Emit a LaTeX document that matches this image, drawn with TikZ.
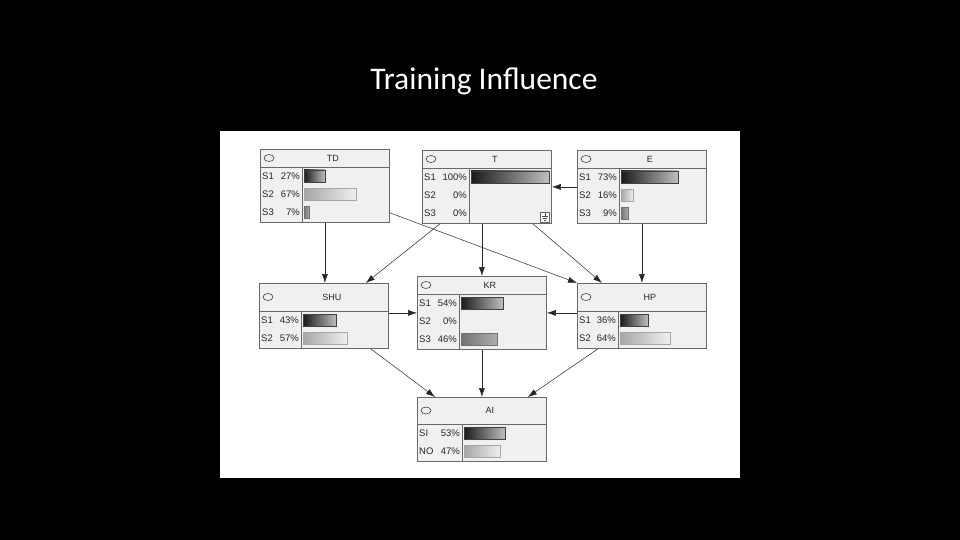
\documentclass[tikz,border=0pt]{standalone}
\usepackage{fontspec}
\setmainfont{Liberation Sans}
\newfontfamily\titlefont{Carlito}
\usepackage{tikz}
\usetikzlibrary{
  arrows.meta,
  positioning,
  calc,
  shapes.geometric
}
\definecolor{boxgray}{RGB}{240,240,240}
\definecolor{linegray}{RGB}{105,105,105}
\tikzset{
  netbox/.style={
    draw=linegray,
    fill=boxgray,
    minimum width=129pt,
    inner sep=0pt,
    line width=0.8pt
  },
  netline/.style={draw=linegray,line width=0.8pt},
  nodeicon/.style={ellipse,draw=black!75,minimum width=10pt,minimum height=7pt,inner sep=0pt,line width=0.6pt},
  nodetitle/.style={font=\fontsize{9}{10}\selectfont,inner sep=0pt,text=black!85},
  statelabel/.style={font=\fontsize{9.5}{10}\selectfont,inner sep=0pt,text=black!85},
  darkbar/.style={draw=black!75,left color=black!90,right color=black!25},
  lightbar/.style={draw=black!35,left color=black!35,right color=black!6},
  midbar/.style={draw=black!55,left color=black!55,right color=black!32},
  nobar/.style={draw=none},
  link/.style={-{Latex[length=9pt,width=6pt]},draw=black!85,line width=0.5pt},
  heading/.style={font=\titlefont\fontsize{31.5}{36}\selectfont,text=white},
  panel/.style={fill=white,minimum width=520pt,minimum height=347pt,inner sep=0pt},
}
% one network node: name, left, top, height, header, divider, title, rows
\newcommand{\bnnode}[8]{%
  \node[netbox,minimum height=#4pt,anchor=north west] (#1) at (#2,#3) {};
  \draw[netline] ($(#1.north west)+(0,#5)$) -- ($(#1.north east)+(0,#5)$);
  \node[nodeicon] (#1-icon) at ($(#1.north west)+(9,#5/2)$) {};
  \node[nodetitle] (#1-title) at ($(#1.north)+(8,#5/2)$) {#7};
  \draw[netline] ($(#1.north west)+(#6,#5)$) -- ($(#1.south west)+(#6,0)$);
  \foreach \sname/\pct/\bk [count=\i] in {#8} {
    \node[statelabel,anchor=west] (#1-s\i) at ($(#1.north west)+(2,#5+18*\i-9)$) {\sname};
    \node[statelabel,anchor=east] (#1-p\i) at ($(#1.north west)+(#6-2,#5+18*\i-9)$) {\pct\%};
    \draw[\bk] ($(#1.north west)+(#6+2,#5+18*\i-15)$) rectangle ++(0.78*\pct,12);
  }
}

\begin{document}
\begin{tikzpicture}[x=1pt,y=-1pt]
  \fill[black] (0,0) rectangle (960,540);
  \useasboundingbox (0,0) rectangle (960,540);
  \node[heading] (title) at (484,81) {Training Influence};
  \node[panel,anchor=north west] (panel) at (220,131) {};

  \bnnode{td}{260}{149}{73}{18}{42}{TD}{S1/27/darkbar, S2/67/lightbar, S3/7/midbar}
  \bnnode{t}{422}{150}{73}{18}{47}{T}{S1/100/darkbar, S2/0/nobar, S3/0/nobar}
  \bnnode{e}{577}{150}{73}{18}{42}{E}{S1/73/darkbar, S2/16/lightbar, S3/9/midbar}
  \bnnode{shu}{259}{283}{65}{28}{42}{SHU}{S1/43/darkbar, S2/57/lightbar}
  \bnnode{kr}{417}{276}{73}{18}{42}{KR}{S1/54/darkbar, S2/0/nobar, S3/46/midbar}
  \bnnode{hp}{577}{283}{65}{28}{41}{HP}{S1/36/darkbar, S2/64/lightbar}
  \bnnode{ai}{417}{397}{64}{27}{45}{AI}{SI/53/darkbar, NO/47/lightbar}

  % small symbol in T
  \node[draw=black!60,fill=white,minimum width=9pt,minimum height=10pt,inner sep=0pt] (t-sym) at ($(t.south east)+(-7,-7)$) {};
  \draw[black!70,line width=0.5pt] ($(t-sym.center)+(0,-4)$) -- ($(t-sym.center)+(0,-1)$)
    ($(t-sym.center)+(-3,-1)$) -- ($(t-sym.center)+(3,-1)$)
    ($(t-sym.center)+(-2,1)$) -- ($(t-sym.center)+(2,1)$)
    ($(t-sym.center)+(-1,3)$) -- ($(t-sym.center)+(1,3)$);

  \draw[link] (e.west) -- (t.east);
  \draw[link] (td.south) -- (td.south |- shu.north);
  \draw[link] ($(t.south west)+(18,0)$) -- ($(shu.north east)+(-23,0)$);
  \draw[link] (kr.north |- t.south) -- (kr.north);
  \draw[link] ($(t.south east)+(-19,0)$) -- ($(hp.north west)+(25,0)$);
  \draw[link] ($(td.south east)+(0,-10)$) -- (hp.north west);
  \draw[link] (e.south) -- (hp.north);
  \draw[link] (shu.east |- kr.west) -- (kr.west);
  \draw[link] (hp.west |- kr.east) -- (kr.east);
  \draw[link] ($(shu.south east)+(-18,0)$) -- ($(ai.north west)+(18,0)$);
  \draw[link] (kr.south) -- (ai.north);
  \draw[link] ($(hp.south west)+(21,0)$) -- ($(ai.north east)+(-19,0)$);
\end{tikzpicture}
\end{document}
